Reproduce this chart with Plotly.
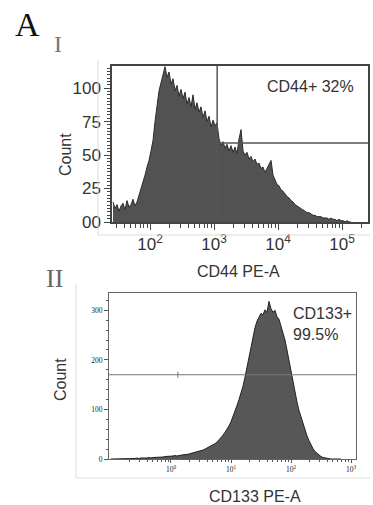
import numpy as np
import plotly.graph_objects as go

W, H = 373, 505

# ---------------- Data ----------------
# Panel I: CD44 PE-A histogram (log10 bin start, bin width in log10 units)
cd44_log_start = 1.40625
cd44_log_step = 0.03125
cd44_counts = [
    15, 10, 13, 8, 12, 14, 9, 16, 11, 13, 17, 12, 15, 20, 24, 29, 35, 41, 46, 53,
    61, 75, 88, 98, 104, 110, 116, 108, 112, 103, 107, 98, 102, 94, 99, 92, 97, 88, 93, 86,
    95, 84, 89, 82, 86, 78, 83, 75, 79, 71, 76, 72, 74, 62, 57, 60, 55, 58, 53, 57,
    52, 56, 51, 62, 69, 53, 50, 52, 47, 49, 45, 47, 43, 44, 40, 41, 37, 40, 43, 46,
    35, 31, 28, 27, 24, 23, 21, 19, 18, 16, 15, 13, 12, 11, 10, 9, 8, 7, 7, 6,
    5, 5, 4, 4, 4, 3, 3, 3, 2, 3, 2, 2, 1, 2, 1, 1, 0, 1, 0, 0,
]
cd44_gate_x = 1120
cd44_gate_y = 59
cd44_yticks = [0, 25, 50, 75, 100]
cd44_yticktext = ["00", "25", "50", "75", "100"]
cd44_xticks = [1e2, 1e3, 1e4, 1e5]
cd44_xticktext = ["10<sup>2</sup>", "10<sup>3</sup>", "10<sup>4</sup>", "10<sup>5</sup>"]

# Panel II: CD133 PE-A histogram
cd133_log_start = -1.0167
cd133_log_step = 0.03333
cd133_counts = [
    0, 0, 0, 0, 0, 1, 0, 1, 0, 1, 1, 0, 1, 2, 1, 2, 2, 1, 2, 3,
    2, 3, 3, 4, 3, 4, 4, 5, 5, 6, 5, 6, 7, 6, 7, 8, 8, 9, 9, 10,
    11, 12, 13, 14, 15, 17, 18, 20, 22, 24, 26, 28, 31, 34, 38, 43, 48, 54, 60, 67,
    75, 85, 96, 108, 120, 133, 147, 165, 185, 205, 228, 247, 265, 278, 288, 294, 291, 301, 296, 318,
    303, 296, 300, 287, 282, 268, 255, 240, 220, 198, 176, 156, 133, 115, 98, 84, 70, 58, 47, 37,
    28, 21, 15, 11, 7, 5, 3, 2, 1, 1, 0, 0, 0, 0, 0, 0,
]
cd133_gate_y = 170
cd133_gate_mark_x = 1.3
cd133_yticks = [0, 100, 200, 300]
cd133_xticks = [1e0, 1e1, 1e2, 1e3]
cd133_xticktext = ["10<sup>0</sup>", "10<sup>1</sup>", "10<sup>2</sup>", "10<sup>3</sup>"]

# ---------------- Helpers ----------------
def centers(log_start, log_step, counts):
    return list(10 ** (log_start + log_step * (np.arange(len(counts)) + 0.5)))

def px(x):
    return x / W

def py(y):
    return 1 - y / H

# axis ranges (log10 for x)
I_xr = [1.406, 5.406]
I_yr = [0, 116.5]
II_xr = [-1.033, 3.083]
II_yr = [0, 335]

fig = go.Figure()

# Panel I histogram
fig.add_trace(go.Scatter(x=centers(cd44_log_start, cd44_log_step, cd44_counts), y=cd44_counts,
                         mode="lines", line=dict(shape="linear", color="#2b2b2b", width=1),
                         fill="tozeroy", fillcolor="#525252", xaxis="x", yaxis="y", showlegend=False))
# Panel I gates
fig.add_trace(go.Scatter(x=[cd44_gate_x, cd44_gate_x], y=[0, I_yr[1]], mode="lines",
                         line=dict(color="#555555", width=1.5), xaxis="x", yaxis="y", showlegend=False))
fig.add_trace(go.Scatter(x=[cd44_gate_x, 10 ** I_xr[1]], y=[cd44_gate_y, cd44_gate_y], mode="lines",
                         line=dict(color="#555555", width=1.5), xaxis="x", yaxis="y", showlegend=False))

# Panel II histogram
fig.add_trace(go.Scatter(x=centers(cd133_log_start, cd133_log_step, cd133_counts), y=cd133_counts,
                         mode="lines", line=dict(shape="linear", color="#222222", width=1),
                         fill="tozeroy", fillcolor="#575757", xaxis="x2", yaxis="y2", showlegend=False))
fig.add_trace(go.Scatter(x=[10 ** II_xr[0], 10 ** II_xr[1]], y=[cd133_gate_y, cd133_gate_y], mode="lines",
                         line=dict(color="#777777", width=1), xaxis="x2", yaxis="y2", showlegend=False))
fig.add_trace(go.Scatter(x=[cd133_gate_mark_x, cd133_gate_mark_x], y=[cd133_gate_y - 6, cd133_gate_y + 6],
                         mode="lines", line=dict(color="#777777", width=1), xaxis="x2", yaxis="y2",
                         showlegend=False))

minor_I = [m * 10 ** d for d in range(1, 6) for m in range(2, 10)]
minor_II = [m * 10.0 ** d for d in range(-1, 3) for m in range(2, 10)]

fig.update_layout(
    width=W, height=H,
    margin=dict(l=0, r=0, t=0, b=0),
    paper_bgcolor="white", plot_bgcolor="white",
    font=dict(family="Liberation Sans, Arial, sans-serif", color="#333333"),
    xaxis=dict(domain=[px(112), px(368)], anchor="y", type="log", range=I_xr, automargin=False,
               tickmode="array", tickvals=cd44_xticks, ticktext=cd44_xticktext,
               ticks="outside", ticklen=6, tickcolor="#444", tickwidth=1.2,
               tickfont=dict(size=17, color="#333"),
               minor=dict(tickmode="array", tickvals=minor_I, ticks="outside", ticklen=4,
                          tickcolor="#444", showgrid=False),
               showgrid=False, zeroline=False, showline=True, mirror=True,
               linecolor="#444", linewidth=1.5),
    yaxis=dict(domain=[py(222), py(66)], anchor="x", range=I_yr, automargin=False,
               tickmode="array", tickvals=cd44_yticks, ticktext=cd44_yticktext,
               ticks="outside", ticklen=6, tickcolor="#444", tickwidth=1.2,
               tickfont=dict(size=17, color="#333"),
               minor=dict(dtick=2.5, ticks="outside", ticklen=3, tickcolor="#444", showgrid=False),
               showgrid=False, zeroline=False, showline=True, mirror=True,
               linecolor="#444", linewidth=1.5),
    xaxis2=dict(domain=[px(109), px(356)], anchor="y2", type="log", range=II_xr, automargin=False,
                tickmode="array", tickvals=cd133_xticks, ticktext=cd133_xticktext,
                ticks="outside", ticklen=3, tickcolor="#555", tickwidth=1,
                tickfont=dict(size=7.5, color="#222222", family="Liberation Serif, serif"),
                minor=dict(tickmode="array", tickvals=minor_II, ticks="outside", ticklen=2,
                           tickcolor="#555", showgrid=False),
                showgrid=False, zeroline=False, showline=True, mirror=True,
                linecolor="#666", linewidth=1),
    yaxis2=dict(domain=[py(459), py(293)], anchor="x2", range=II_yr, automargin=False,
                tickmode="array", tickvals=cd133_yticks,
                ticks="outside", ticklen=4, tickcolor="#555", tickwidth=1,
                tickfont=dict(size=7.5, color="#222222", family="Liberation Serif, serif"),
                minor=dict(dtick=20, ticks="outside", ticklen=2, tickcolor="#555", showgrid=False),
                showgrid=False, zeroline=False, showline=True, mirror=True,
                linecolor="#666", linewidth=1),
)

# light outer frames
fig.add_shape(type="line", xref="paper", yref="paper", x0=px(98), x1=px(98), y0=py(60), y1=py(235),
              line=dict(color="#dddddd", width=1))
fig.add_shape(type="line", xref="paper", yref="paper", x0=px(98), x1=px(370), y0=py(235), y1=py(235),
              line=dict(color="#dddddd", width=1))
fig.add_shape(type="line", xref="paper", yref="paper", x0=px(76), x1=px(76), y0=py(284), y1=py(478),
              line=dict(color="#dddddd", width=1))
fig.add_shape(type="line", xref="paper", yref="paper", x0=px(76), x1=px(370), y0=py(478), y1=py(478),
              line=dict(color="#dddddd", width=1))

def ann(text, x, y, size, color="#333333", family="Liberation Sans, Arial, sans-serif",
        xanchor="center", yanchor="middle", angle=0):
    fig.add_annotation(text=text, x=px(x), y=py(y), xref="paper", yref="paper", showarrow=False,
                       font=dict(size=size, color=color, family=family),
                       xanchor=xanchor, yanchor=yanchor, textangle=angle)

ann("A", 28, 24, 34, color="#111111", family="Liberation Serif, serif")
ann("I", 58, 44, 24, color="#777777", family="Liberation Serif, serif")
ann("II", 55, 278, 26, color="#666666", family="Liberation Serif, serif")
ann("CD44+ 32%", 310, 87, 16)
ann("Count", 65, 155, 16, angle=-90)
ann("CD44 PE-A", 238, 271, 16)
ann("CD133+", 291, 313, 16, xanchor="left")
ann("99.5%", 291, 334, 16, xanchor="left")
ann("Count", 60, 380, 16, angle=-90)
ann("CD133 PE-A", 255, 496, 16)

fig.write_html("out.html", config={"displayModeBar": False},
               post_script="document.body.style.margin='0px';document.body.style.overflow='hidden';")
